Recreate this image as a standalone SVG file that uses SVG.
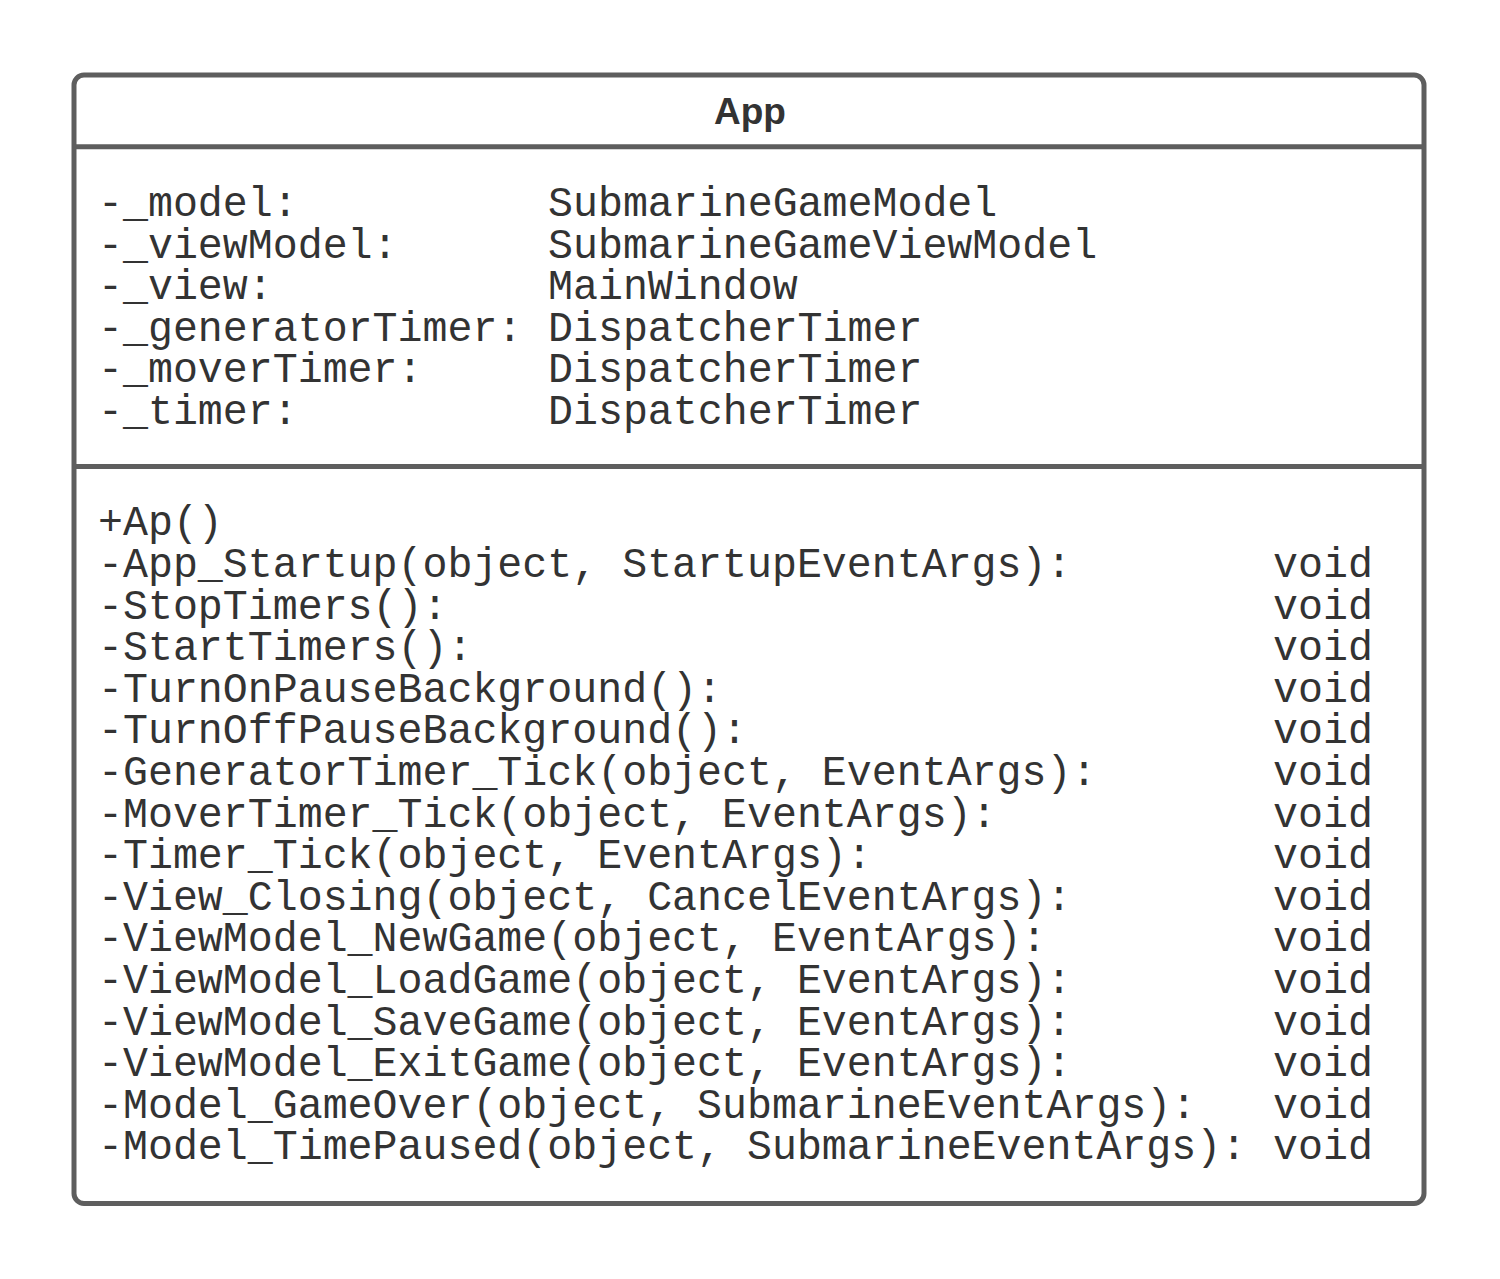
<svg xmlns="http://www.w3.org/2000/svg" width="1500" height="1279" viewBox="0 0 1500 1279">
<style>
.box{fill:#ffffff;stroke:#5e5e5e;stroke-width:5}
.div{stroke:#5e5e5e;stroke-width:5}
.t{font-family:"Liberation Mono","DejaVu Sans Mono",monospace;font-size:41.6px;fill:#333333;white-space:pre}
.h{font-family:"Liberation Sans",Arial,sans-serif;font-size:37px;font-weight:bold;fill:#333333;text-anchor:middle}
</style>
<rect width="1500" height="1279" fill="#ffffff"/>
<g id="App">
<rect class="box" x="74" y="75" width="1350" height="1128.5" rx="10" ry="10"/>
<line class="div" x1="74" y1="146.7" x2="1424" y2="146.7"/>
<line class="div" x1="74" y1="466.5" x2="1424" y2="466.5"/>
<text class="h" x="750" y="124">App</text>
<g id="attributes">
<text class="t" x="98" y="216">-_model:</text><text class="t" x="548" y="216">SubmarineGameModel</text>
<text class="t" x="98" y="257.6">-_viewModel:</text><text class="t" x="548" y="257.6">SubmarineGameViewModel</text>
<text class="t" x="98" y="299.2">-_view:</text><text class="t" x="548" y="299.2">MainWindow</text>
<text class="t" x="98" y="340.8">-_generatorTimer:</text><text class="t" x="548" y="340.8">DispatcherTimer</text>
<text class="t" x="98" y="382.4">-_moverTimer:</text><text class="t" x="548" y="382.4">DispatcherTimer</text>
<text class="t" x="98" y="424">-_timer:</text><text class="t" x="548" y="424">DispatcherTimer</text>
</g>
<g id="methods">
<text class="t" x="98" y="535.3">+Ap()</text>
<text class="t" x="98" y="576.9">-App_Startup(object, StartupEventArgs):</text><text class="t" x="1273" y="576.9">void</text>
<text class="t" x="98" y="618.5">-StopTimers():</text><text class="t" x="1273" y="618.5">void</text>
<text class="t" x="98" y="660.1">-StartTimers():</text><text class="t" x="1273" y="660.1">void</text>
<text class="t" x="98" y="701.7">-TurnOnPauseBackground():</text><text class="t" x="1273" y="701.7">void</text>
<text class="t" x="98" y="743.3">-TurnOffPauseBackground():</text><text class="t" x="1273" y="743.3">void</text>
<text class="t" x="98" y="784.9">-GeneratorTimer_Tick(object, EventArgs):</text><text class="t" x="1273" y="784.9">void</text>
<text class="t" x="98" y="826.5">-MoverTimer_Tick(object, EventArgs):</text><text class="t" x="1273" y="826.5">void</text>
<text class="t" x="98" y="868.1">-Timer_Tick(object, EventArgs):</text><text class="t" x="1273" y="868.1">void</text>
<text class="t" x="98" y="909.7">-View_Closing(object, CancelEventArgs):</text><text class="t" x="1273" y="909.7">void</text>
<text class="t" x="98" y="951.3">-ViewModel_NewGame(object, EventArgs):</text><text class="t" x="1273" y="951.3">void</text>
<text class="t" x="98" y="992.9">-ViewModel_LoadGame(object, EventArgs):</text><text class="t" x="1273" y="992.9">void</text>
<text class="t" x="98" y="1034.5">-ViewModel_SaveGame(object, EventArgs):</text><text class="t" x="1273" y="1034.5">void</text>
<text class="t" x="98" y="1076.1">-ViewModel_ExitGame(object, EventArgs):</text><text class="t" x="1273" y="1076.1">void</text>
<text class="t" x="98" y="1117.7">-Model_GameOver(object, SubmarineEventArgs):</text><text class="t" x="1273" y="1117.7">void</text>
<text class="t" x="98" y="1159.3">-Model_TimePaused(object, SubmarineEventArgs):</text><text class="t" x="1273" y="1159.3">void</text>
</g>
</g>
<g id="connectors"/>
</svg>
